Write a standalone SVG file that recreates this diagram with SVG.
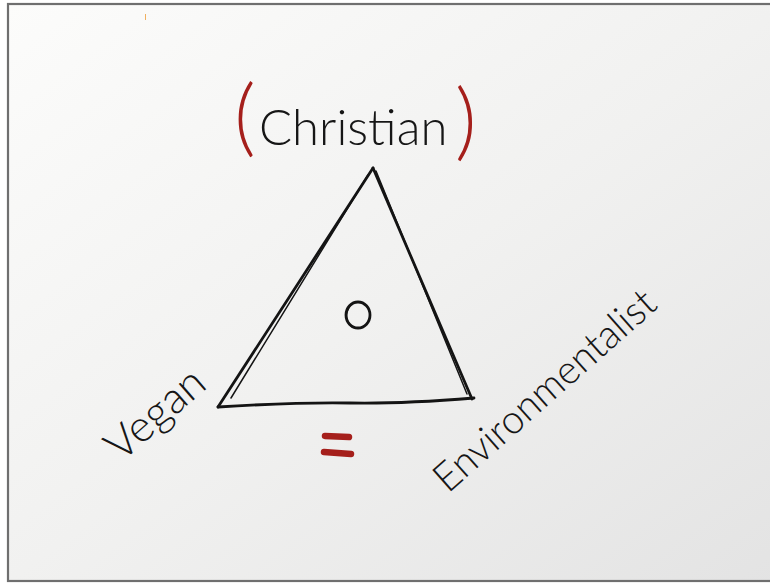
<svg xmlns="http://www.w3.org/2000/svg" width="770" height="583" viewBox="0 0 770 583">
  <defs>
    <linearGradient id="paper" x1="0" y1="0" x2="1" y2="1">
      <stop offset="0" stop-color="#fcfcfb"/>
      <stop offset="0.5" stop-color="#f1f1f0"/>
      <stop offset="1" stop-color="#e3e3e3"/>
    </linearGradient>
  </defs>
  <style>
    .ink { fill: none; stroke: #141414; stroke-width: 2.8; stroke-linecap: round; stroke-linejoin: round; }
    .ink2 { fill: none; stroke: #141414; stroke-width: 1.5; stroke-linecap: round; }
    .red { fill: none; stroke: #a51f1b; stroke-width: 6.5; stroke-linecap: round; }
    .hand { font-family: Lato, "Open Sans", "Liberation Sans", sans-serif; font-weight: 300; fill: #161616; }
    .paren { fill: #a51f1b; }
  </style>
  <rect x="0" y="0" width="770" height="583" fill="#ffffff"/>
  <rect x="8" y="4" width="780" height="577" fill="url(#paper)" stroke="#6f6f6f" stroke-width="2.2"/>
  <line x1="145.5" y1="14" x2="145.5" y2="20" stroke="#f0b060" stroke-width="1"/>

  <g id="connectors">
    <path class="ink" d="M373,168 L218,407"/>
    <path class="ink2" d="M368,175 L231,398"/>
    <path class="ink" d="M373,168 L472,399"/>
    <path class="ink2" d="M376,171 L467,394"/>
    <path class="ink" d="M218,407 Q300,402 350,403 T474,398"/>
  </g>

  <g id="node-christian">
    <text class="hand" font-size="49"><tspan class="paren" x="234" y="146" font-size="84">(</tspan><tspan x="259" y="145">Christian</tspan><tspan class="paren" x="455" y="150" font-size="84">)</tspan></text>
  </g>

  <g id="node-center">
    <ellipse class="ink" cx="358" cy="315" rx="12" ry="13"/>
    <path class="ink2" d="M350,306 Q342,318 352,327"/>
  </g>

  <g id="node-vegan">
    <text class="hand" font-size="44" transform="translate(121,463) rotate(-41)" textLength="116" lengthAdjust="spacingAndGlyphs">Vegan</text>
  </g>

  <g id="node-environmentalist">
    <text class="hand" font-size="40" transform="translate(448,494) rotate(-41.5)" textLength="282" lengthAdjust="spacingAndGlyphs">Environmentalist</text>
  </g>

  <g id="node-equals">
    <path class="red" d="M325,436 L349,437"/>
    <path class="red" d="M324,452 L351,454"/>
  </g>
</svg>
